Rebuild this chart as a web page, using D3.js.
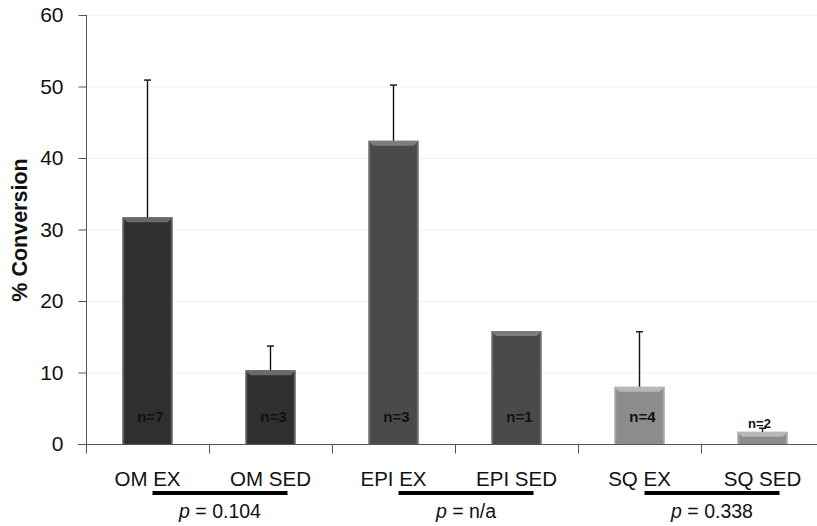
<!DOCTYPE html>
<html>
<head>
<meta charset="utf-8">
<script src="https://cdn.jsdelivr.net/npm/d3@7"></script>
<style>
  html, body { margin: 0; padding: 0; background: #fff; }
  svg { display: block; }
</style>
</head>
<body>
<div id="chart"></div>
<script>
// Conversion rate by depot and condition (mean + upper SD)
const categories = ["OM EX", "OM SED", "EPI EX", "EPI SED", "SQ EX", "SQ SED"];
const means      = [31.7, 10.3, 42.4, 15.8, 8.0, 1.7];
const upperErr   = [19.2, 3.4, 7.8, 0, 7.7, 0.5];
const nLabels    = ["n=7", "n=3", "n=3", "n=1", "n=4", "n=2"];
const pValues    = ["0.104", "n/a", "0.338"];
const yTicks     = [0, 10, 20, 30, 40, 50, 60];

const W = 817, H = 526;
const FONT = "'Liberation Sans', Arial, sans-serif";

// colours per depot pair: fill, rim, top bevel
const palette = [
  { fill: "#2f2f2f", rim: "#5c5c5c", top: "#6a6a6a" },
  { fill: "#4a4a4a", rim: "#6b6b6b", top: "#7c7c7c" },
  { fill: "#8c8c8c", rim: "#a5a5a5", top: "#b8b8b8" }
];

const svg = d3.select("#chart").append("svg")
  .attr("width", W).attr("height", H);

const y = d3.scaleLinear().domain([0, 60]).range([444, 15]);
const x = d3.scaleBand().domain(categories)
  .range([86, 824]).paddingInner(0.59).paddingOuter(0.295);
const bounds = d3.scaleLinear().domain([0, categories.length]).range([86, 824]);
const cx = c => x(c) + x.bandwidth() / 2;

// faint horizontal gridlines
svg.append("g").selectAll("line")
  .data(yTicks.filter(d => d > 0))
  .join("line")
  .attr("x1", 87).attr("x2", W)
  .attr("y1", d => y(d) + 0.5).attr("y2", d => y(d) + 0.5)
  .attr("stroke", "#f1f1f1").attr("stroke-width", 1);

// y axis
const yAxis = svg.append("g")
  .attr("transform", "translate(86.5,0)")
  .call(d3.axisLeft(y).tickValues(yTicks).tickSize(8).tickPadding(15));
yAxis.select(".domain").attr("stroke", "#555").attr("d", `M0,${y(60)}V453`);
yAxis.selectAll(".tick line").attr("stroke", "#555");
yAxis.selectAll(".tick text")
  .attr("font-family", FONT)
  .attr("font-size", 21).attr("fill", "#111");

svg.append("text")
  .attr("transform", "translate(27,230) rotate(-90)")
  .attr("text-anchor", "middle")
  .attr("font-family", FONT)
  .attr("font-weight", "bold").attr("font-size", 21.5).attr("fill", "#111")
  .text("% Conversion");

// bars with a bevelled look
const bars = svg.append("g").selectAll("g.bar")
  .data(categories.map((c, i) => ({ c, i, v: means[i], e: upperErr[i], n: nLabels[i], col: palette[Math.floor(i / 2)] })))
  .join("g").attr("class", "bar");

bars.append("rect")
  .attr("x", d => x(d.c)).attr("y", d => y(d.v))
  .attr("width", x.bandwidth()).attr("height", d => y(0) - y(d.v))
  .attr("fill", d => d.col.rim);
bars.append("rect")
  .attr("x", d => x(d.c) + 2).attr("y", d => y(d.v) + 2)
  .attr("width", x.bandwidth() - 4).attr("height", d => Math.max(0, y(0) - y(d.v) - 2))
  .attr("fill", d => d.col.fill);
bars.append("path")
  .attr("d", d => {
    const x0 = x(d.c), x1 = x0 + x.bandwidth(), t = y(d.v);
    return `M${x0},${t}H${x1}L${x1 - 5},${t + 5}H${x0 + 5}Z`;
  })
  .attr("fill", d => d.col.top);

// upper error bars
const eb = svg.append("g").selectAll("g.err")
  .data(categories.map((c, i) => ({ c, v: means[i], e: upperErr[i] })).filter(d => d.e > 0))
  .join("g").attr("class", "err")
  .attr("stroke", "#111").attr("stroke-width", 1.4);
eb.append("line")
  .attr("x1", d => cx(d.c)).attr("x2", d => cx(d.c))
  .attr("y1", d => y(d.v)).attr("y2", d => y(d.v + d.e));
eb.append("line")
  .attr("x1", d => cx(d.c) - 3.5).attr("x2", d => cx(d.c) + 3.5)
  .attr("y1", d => y(d.v + d.e)).attr("y2", d => y(d.v + d.e));

// sample-size labels
bars.append("text")
  .attr("x", d => cx(d.c) + (d.i === 5 ? -3 : 3))
  .attr("y", d => d.i === 5 ? 428 : 422)
  .attr("text-anchor", "middle")
  .attr("font-family", FONT)
  .attr("font-weight", "bold")
  .attr("font-size", d => d.i === 5 ? 13 : 15)
  .attr("fill", "#111")
  .text(d => d.n);

// x axis with ticks between categories
const xAxis = svg.append("g")
  .attr("transform", "translate(0,444.5)")
  .call(d3.axisBottom(bounds).tickValues(d3.range(categories.length + 1)).tickSize(9).tickFormat(""));
xAxis.select(".domain").attr("stroke", "#555").attr("d", `M78,0H${W}`);
xAxis.selectAll(".tick line").attr("stroke", "#555");

// category names
svg.append("g").selectAll("text")
  .data(categories)
  .join("text")
  .attr("x", d => cx(d))
  .attr("y", 486)
  .attr("text-anchor", "middle")
  .attr("font-family", FONT)
  .attr("font-size", 20.5).attr("fill", "#111")
  .text(d => d);

// comparison bars and p values
const pairs = pValues.map((p, k) => ({ p, a: categories[2 * k], b: categories[2 * k + 1] }));
const pg = svg.append("g").selectAll("g").data(pairs).join("g");
const lx1 = d => cx(d.a) + 5, lx2 = d => cx(d.b) + 17;
pg.append("line")
  .attr("x1", lx1).attr("x2", lx2)
  .attr("y1", 493).attr("y2", 493)
  .attr("stroke", "#000").attr("stroke-width", 4);
const pt = pg.append("text")
  .attr("x", d => (lx1(d) + lx2(d)) / 2)
  .attr("y", 518)
  .attr("text-anchor", "middle")
  .attr("font-family", FONT)
  .attr("font-size", 19.5).attr("fill", "#111");
pt.append("tspan").attr("font-style", "italic").text("p");
pt.append("tspan").text(d => " = " + d.p);
</script>
</body>
</html>
